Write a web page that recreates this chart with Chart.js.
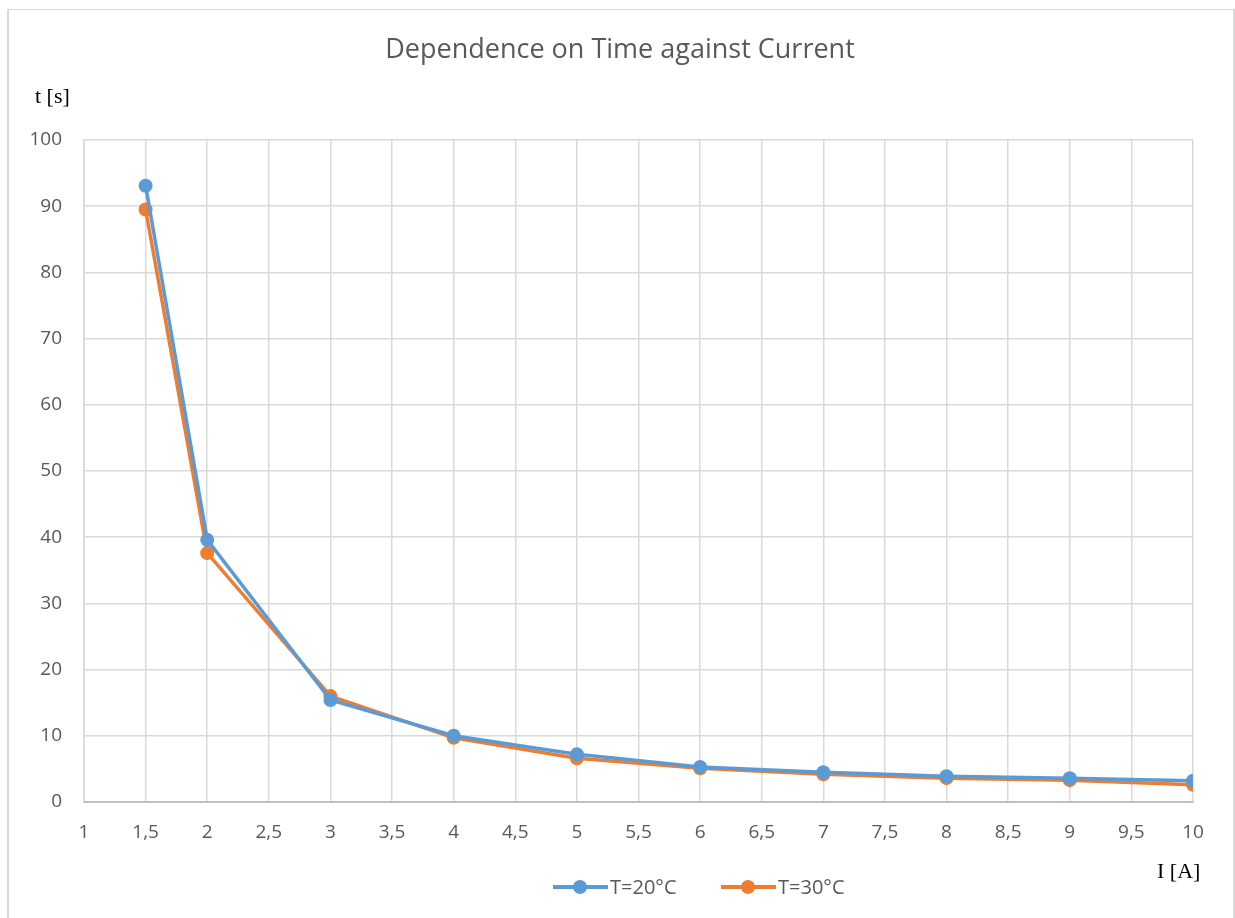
<!DOCTYPE html>
<html>
<head>
<meta charset="utf-8">
<script src="https://cdn.jsdelivr.net/npm/chart.js@4.4.1/dist/chart.umd.min.js"></script>
<style>
  html, body { margin: 0; padding: 0; background: #fff; }
  .frame {
    position: absolute; left: 7px; top: 9px; width: 1224px; height: 930px;
    border-left: 2px solid #d9d9d9; border-top: 1px solid #d9d9d9; border-right: 2px solid #d9d9d9;
  }
  .container-canva { position: absolute; left: 0; top: 0; width: 1235px; height: 918px; }
</style>
</head>
<body>
<div class="frame"></div>
<div class="container-canva"><canvas id="myChart"></canvas></div>
<script>
const chartTitle = "Dependence on Time against Current";
const yTitle = "t [s]";
const xTitle = "I [A]";

const current = [1.5, 2, 3, 4, 5, 6, 7, 8, 9, 10];
const time20 = [93.1, 39.6, 15.4, 10.0, 7.2, 5.3, 4.5, 3.9, 3.6, 3.2];
const time30 = [89.5, 37.6, 16.0, 9.7, 6.6, 5.1, 4.2, 3.6, 3.3, 2.6];
const seriesLabels = ["T=20°C", "T=30°C"];

const colors = ["#5b9bd5", "#ed7d31"];
const textColor = "#595959";
const gridColor = "#d9d9d9";

const toPoints = (ys) => current.map((x, i) => ({ x, y: ys[i] }));

const textPlugin = {
	id: "texts",
	afterDraw(chart) {
		const ctx = chart.ctx;
		ctx.save();
		ctx.fillStyle = textColor;
		ctx.font = "27px 'Open Sans'";
		ctx.textAlign = "center";
		ctx.textBaseline = "middle";
		ctx.fillText(chartTitle, 620, 50);

		ctx.fillStyle = "#000";
		ctx.font = "22px 'Liberation Serif'";
		ctx.textAlign = "left";
		ctx.fillText(yTitle, 35, 97);
		ctx.fillText(xTitle, 1157, 872);

		// legend
		const items = [
			{ x: 553, text: seriesLabels[0], color: colors[0] },
			{ x: 721, text: seriesLabels[1], color: colors[1] },
		];
		const ly = 887;
		ctx.font = "20px 'Open Sans'";
		items.forEach((it) => {
			ctx.strokeStyle = it.color;
			ctx.lineWidth = 4;
			ctx.beginPath();
			ctx.moveTo(it.x, ly);
			ctx.lineTo(it.x + 55, ly);
			ctx.stroke();
			ctx.fillStyle = it.color;
			ctx.beginPath();
			ctx.arc(it.x + 27, ly, 7, 0, Math.PI * 2);
			ctx.fill();
			ctx.fillStyle = textColor;
			ctx.fillText(it.text, it.x + 57, ly + 1);
		});
		ctx.restore();
	},
};

new Chart(document.getElementById("myChart"), {
	type: "line",
	data: {
		datasets: [
			{
				label: seriesLabels[0],
				data: toPoints(time20),
				borderColor: colors[0],
				backgroundColor: colors[0],
				borderWidth: 3.5,
				pointRadius: 7,
				pointHoverRadius: 7,
				pointBorderWidth: 0,
				tension: 0,
			},
			{
				label: seriesLabels[1],
				data: toPoints(time30),
				borderColor: colors[1],
				backgroundColor: colors[1],
				borderWidth: 3.5,
				pointRadius: 7,
				pointHoverRadius: 7,
				pointBorderWidth: 0,
				tension: 0,
			},
		],
	},
	options: {
		responsive: true,
		maintainAspectRatio: false,
		animation: false,
		layout: { padding: { left: 0, top: 140, right: 42, bottom: 0 } },
		plugins: {
			legend: { display: false },
			title: { display: false },
			tooltip: { enabled: false },
		},
		scales: {
			x: {
				type: "linear",
				min: 1,
				max: 10,
				afterFit: (scale) => { scale.height = 116; },
				afterBuildTicks: (scale) => {
					scale.ticks = [];
					for (let v = 2; v <= 20; v++) scale.ticks.push({ value: v / 2 });
				},
				ticks: {
					color: textColor,
					font: { family: "'Open Sans'", size: 19 },
					padding: 19,
					maxRotation: 0,
					autoSkip: false,
					callback: (v) => String(v).replace(".", ","),
				},
				grid: { color: gridColor, lineWidth: 1.5, drawTicks: false },
				border: { color: "#bfbfbf", width: 2 },
			},
			y: {
				min: 0,
				max: 100,
				afterFit: (scale) => { scale.width = 84; },
				ticks: {
					stepSize: 10,
					color: textColor,
					font: { family: "'Open Sans'", size: 19 },
					padding: 22,
				},
				grid: { color: gridColor, lineWidth: 1.5, drawTicks: false },
				border: { color: gridColor, width: 1.5 },
			},
		},
	},
	plugins: [textPlugin],
});
</script>
</body>
</html>
